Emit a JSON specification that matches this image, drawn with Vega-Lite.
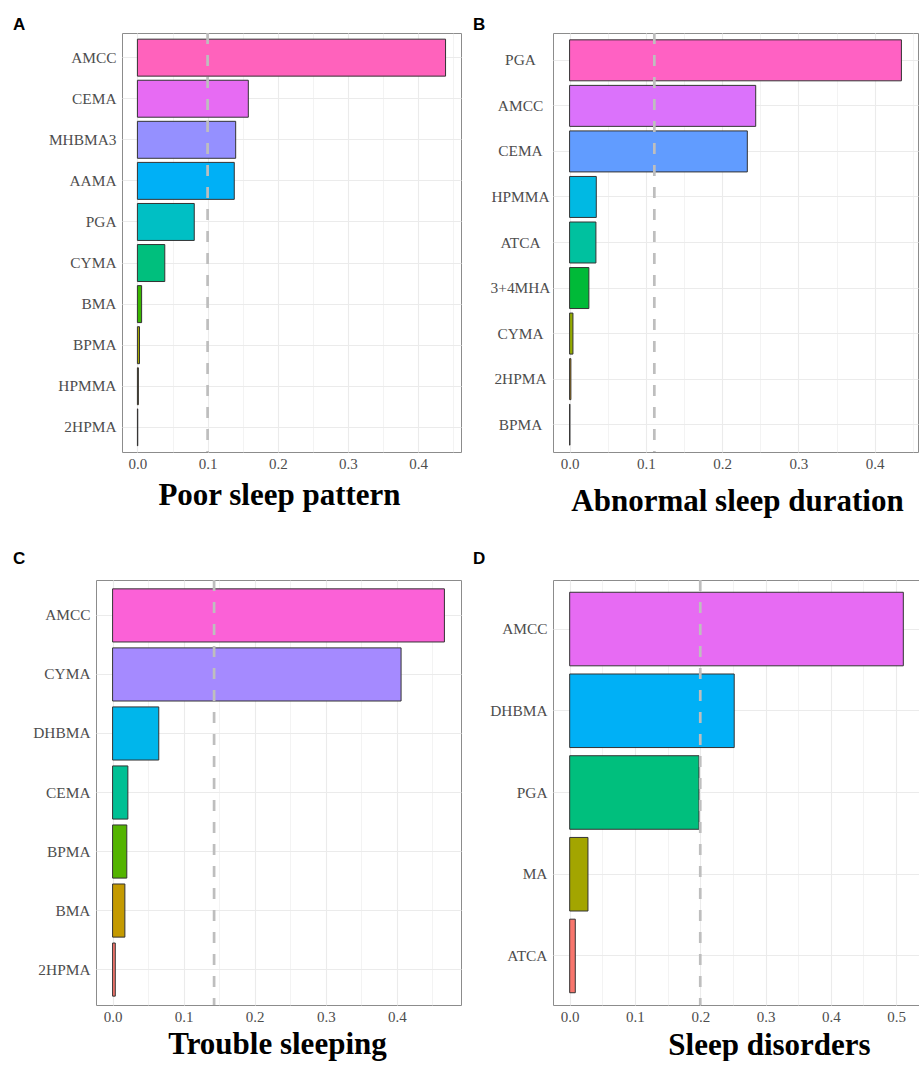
{
  "$schema": "https://vega.github.io/schema/vega-lite/v6.json",
  "background": "white",
  "padding": {"left": 12, "top": 15, "right": 0, "bottom": 0},
  "autosize": {"type": "pad"},
  "datasets": {
    "poor": [
      {"exposure": "AMCC", "weight": 0.439},
      {"exposure": "CEMA", "weight": 0.158},
      {"exposure": "MHBMA3", "weight": 0.140},
      {"exposure": "AAMA", "weight": 0.138},
      {"exposure": "PGA", "weight": 0.081},
      {"exposure": "CYMA", "weight": 0.039},
      {"exposure": "BMA", "weight": 0.006},
      {"exposure": "BPMA", "weight": 0.003},
      {"exposure": "HPMMA", "weight": 0.0014},
      {"exposure": "2HPMA", "weight": 0.0005}
    ],
    "duration": [
      {"exposure": "PGA", "weight": 0.435},
      {"exposure": "AMCC", "weight": 0.244},
      {"exposure": "CEMA", "weight": 0.233},
      {"exposure": "HPMMA", "weight": 0.035},
      {"exposure": "ATCA", "weight": 0.0345},
      {"exposure": "3+4MHA", "weight": 0.0253},
      {"exposure": "CYMA", "weight": 0.0044},
      {"exposure": "2HPMA", "weight": 0.0017},
      {"exposure": "BPMA", "weight": 0.0004}
    ],
    "trouble": [
      {"exposure": "AMCC", "weight": 0.467},
      {"exposure": "CYMA", "weight": 0.406},
      {"exposure": "DHBMA", "weight": 0.065},
      {"exposure": "CEMA", "weight": 0.0215},
      {"exposure": "BPMA", "weight": 0.020},
      {"exposure": "BMA", "weight": 0.0173},
      {"exposure": "2HPMA", "weight": 0.0038}
    ],
    "disorders": [
      {"exposure": "AMCC", "weight": 0.511},
      {"exposure": "DHBMA", "weight": 0.252},
      {"exposure": "PGA", "weight": 0.198},
      {"exposure": "MA", "weight": 0.028},
      {"exposure": "ATCA", "weight": 0.0086}
    ],
    "cut10": [{"weight": 0.1}],
    "cut9": [{"weight": 0.1111}],
    "cut7": [{"weight": 0.142857}],
    "cut5": [{"weight": 0.2}],
    "blank": [{}]
  },
  "config": {
    "view": {"stroke": "#8C8C8C", "strokeWidth": 1},
    "axis": {
      "grid": true,
      "gridColor": "#EBEBEB",
      "ticks": false,
      "tickSize": 0,
      "domain": false,
      "labelFont": "Liberation Serif",
      "labelColor": "#4D4D4D",
      "titleFont": "Liberation Serif"
    },
    "axisX": {"labelFontSize": 15, "labelPadding": 4, "labelFlush": false, "labelOverlap": false},
    "axisY": {"labelFontSize": 15.4, "labelPadding": 6, "bandPosition": 0.5, "gridWidth": 1},
    "title": {"font": "Liberation Sans", "fontSize": 17, "fontWeight": "bold", "color": "black", "anchor": "start", "frame": "group", "baseline": "alphabetic"}
  },
  "resolve": {"scale": {"color": "independent", "x": "independent", "y": "independent"}},
  "spacing": 32,
  "vconcat": [
    {
      "bounds": "flush",
      "spacing": 0,
      "resolve": {"scale": {"color": "independent", "x": "independent", "y": "independent"}},
      "hconcat": [
        {
          "width": 26, "height": 10,
          "view": {"stroke": null},
          "data": {"name": "blank"},
          "mark": {"type": "point", "opacity": 0},
          "encoding": {}
        },
        {
          "spacing": 10,
          "resolve": {"scale": {"color": "independent", "x": "independent", "y": "independent"}},
          "hconcat": [
            {
              "width": 339, "height": 419,
              "title": {"text": "A", "dx": -109, "offset": -2},
              "encoding": {
                "x": {"field": "weight", "type": "quantitative",
                      "scale": {"domain": [-0.02195, 0.461], "nice": false, "zero": false},
                      "axis": {"title": "Poor sleep pattern", "titleFontSize": 31, "titleFontWeight": "bold", "titleColor": "black",
                               "titleBaseline": "alphabetic", "titleAlign": "center", "titleAngle": 0, "titleX": 157, "titleY": 52,
                               "values": [0, 0.05, 0.1, 0.15, 0.2, 0.25, 0.3, 0.35, 0.4, 0.45],
                               "labelExpr": "round(datum.value*100) % 10 === 0 ? format(datum.value, '.1f') : ''",
                               "gridWidth": {"condition": {"test": "round(datum.value*100) % 10 === 0", "value": 1.1}, "value": 0.6}}}
              },
              "layer": [
                {
                  "data": {"name": "poor"},
                  "mark": {"type": "bar", "stroke": "#333333", "strokeWidth": 1},
                  "encoding": {
                    "y": {"field": "exposure", "type": "nominal", "sort": "-x", "title": null,
                          "scale": {"paddingInner": 0.1, "paddingOuter": 0.15}},
                    "color": {"field": "exposure", "type": "nominal", "legend": null,
                              "scale": {"domain": ["2HPMA", "HPMMA", "BPMA", "BMA", "CYMA", "PGA", "AAMA", "MHBMA3", "CEMA", "AMCC"],
                                        "range": ["#F8766D", "#D89000", "#A3A500", "#39B600", "#00BF7D", "#00BFC4", "#00B0F6", "#9590FF", "#E76BF3", "#FF62BC"]}}
                  }
                },
                {
                  "data": {"name": "cut10"},
                  "mark": {"type": "rule", "color": "#BEBEBE", "strokeWidth": 2.7, "strokeDash": [11, 11]},
                  "encoding": {}
                }
              ]
            },
            {
              "width": 365, "height": 419,
              "title": {"text": "B", "dx": -80, "offset": -2},
              "encoding": {
                "x": {"field": "weight", "type": "quantitative",
                      "scale": {"domain": [-0.02175, 0.45675], "nice": false, "zero": false},
                      "axis": {"title": "Abnormal sleep duration", "titleFontSize": 31, "titleFontWeight": "bold", "titleColor": "black",
                               "titleBaseline": "alphabetic", "titleAlign": "center", "titleAngle": 0, "titleX": 184, "titleY": 58,
                               "values": [0, 0.05, 0.1, 0.15, 0.2, 0.25, 0.3, 0.35, 0.4, 0.45],
                               "labelExpr": "round(datum.value*100) % 10 === 0 ? format(datum.value, '.1f') : ''",
                               "gridWidth": {"condition": {"test": "round(datum.value*100) % 10 === 0", "value": 1.1}, "value": 0.6}}}
              },
              "layer": [
                {
                  "data": {"name": "duration"},
                  "mark": {"type": "bar", "stroke": "#333333", "strokeWidth": 1},
                  "encoding": {
                    "y": {"field": "exposure", "type": "nominal", "sort": "-x", "title": null,
                          "scale": {"paddingInner": 0.1, "paddingOuter": 0.15},
                          "axis": {"labelAlign": "center", "labelPadding": 33}},
                    "color": {"field": "exposure", "type": "nominal", "legend": null,
                              "scale": {"domain": ["BPMA", "2HPMA", "CYMA", "3+4MHA", "ATCA", "HPMMA", "CEMA", "AMCC", "PGA"],
                                        "range": ["#F8766D", "#D39200", "#93AA00", "#00BA38", "#00C19F", "#00B9E3", "#619CFF", "#DB72FB", "#FF61C3"]}}
                  }
                },
                {
                  "data": {"name": "cut9"},
                  "mark": {"type": "rule", "color": "#BEBEBE", "strokeWidth": 2.7, "strokeDash": [11, 11]},
                  "encoding": {}
                }
              ]
            }
          ]
        }
      ]
    },
    {
      "spacing": 10,
      "resolve": {"scale": {"color": "independent", "x": "independent", "y": "independent"}},
      "hconcat": [
        {
          "width": 365, "height": 425,
          "title": {"text": "C", "dx": -83, "offset": 11},
          "encoding": {
            "x": {"field": "weight", "type": "quantitative",
                  "scale": {"domain": [-0.02335, 0.49035], "nice": false, "zero": false},
                  "axis": {"title": "Trouble sleeping", "titleFontSize": 31, "titleFontWeight": "bold", "titleColor": "black",
                           "titleBaseline": "alphabetic", "titleAlign": "center", "titleAngle": 0, "titleX": 181, "titleY": 48,
                           "values": [0, 0.05, 0.1, 0.15, 0.2, 0.25, 0.3, 0.35, 0.4, 0.45],
                           "labelExpr": "round(datum.value*100) % 10 === 0 ? format(datum.value, '.1f') : ''",
                           "gridWidth": {"condition": {"test": "round(datum.value*100) % 10 === 0", "value": 1.1}, "value": 0.6}}}
          },
          "layer": [
            {
              "data": {"name": "trouble"},
              "mark": {"type": "bar", "stroke": "#333333", "strokeWidth": 1},
              "encoding": {
                "y": {"field": "exposure", "type": "nominal", "sort": "-x", "title": null,
                      "scale": {"paddingInner": 0.1, "paddingOuter": 0.15}},
                "color": {"field": "exposure", "type": "nominal", "legend": null,
                          "scale": {"domain": ["2HPMA", "BMA", "BPMA", "CEMA", "DHBMA", "CYMA", "AMCC"],
                                    "range": ["#F8766D", "#C49A00", "#53B400", "#00C094", "#00B6EB", "#A58AFF", "#FB61D7"]}}
              }
            },
            {
              "data": {"name": "cut7"},
              "mark": {"type": "rule", "color": "#BEBEBE", "strokeWidth": 2.7, "strokeDash": [11, 11]},
              "encoding": {}
            }
          ]
        },
        {
          "width": 367, "height": 425,
          "title": {"text": "D", "dx": -80, "offset": 11},
          "encoding": {
            "x": {"field": "weight", "type": "quantitative",
                  "scale": {"domain": [-0.02555, 0.53655], "nice": false, "zero": false},
                  "axis": {"title": "Sleep disorders", "titleFontSize": 31, "titleFontWeight": "bold", "titleColor": "black",
                           "titleBaseline": "alphabetic", "titleAlign": "center", "titleAngle": 0, "titleX": 216, "titleY": 49,
                           "values": [0, 0.05, 0.1, 0.15, 0.2, 0.25, 0.3, 0.35, 0.4, 0.45, 0.5],
                           "labelExpr": "round(datum.value*100) % 10 === 0 ? format(datum.value, '.1f') : ''",
                           "gridWidth": {"condition": {"test": "round(datum.value*100) % 10 === 0", "value": 1.1}, "value": 0.6}}}
          },
          "layer": [
            {
              "data": {"name": "disorders"},
              "mark": {"type": "bar", "stroke": "#333333", "strokeWidth": 1},
              "encoding": {
                "y": {"field": "exposure", "type": "nominal", "sort": "-x", "title": null,
                      "scale": {"paddingInner": 0.1, "paddingOuter": 0.15}},
                "color": {"field": "exposure", "type": "nominal", "legend": null,
                          "scale": {"domain": ["ATCA", "MA", "PGA", "DHBMA", "AMCC"],
                                    "range": ["#F8766D", "#A3A500", "#00BF7D", "#00B0F6", "#E76BF3"]}}
              }
            },
            {
              "data": {"name": "cut5"},
              "mark": {"type": "rule", "color": "#BEBEBE", "strokeWidth": 2.7, "strokeDash": [11, 11]},
              "encoding": {}
            }
          ]
        }
      ]
    }
  ]
}
